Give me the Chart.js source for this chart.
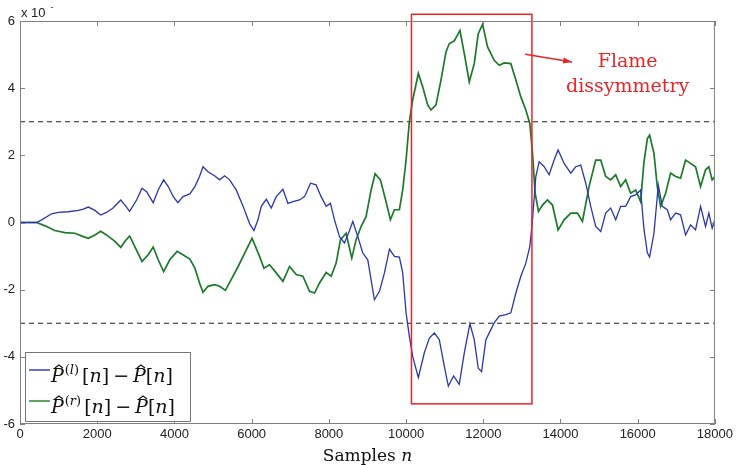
<!DOCTYPE html>
<html><head><meta charset="utf-8">
<script src="https://cdn.jsdelivr.net/npm/chart.js@4.4.1/dist/chart.umd.min.js"></script>
<style>html,body{margin:0;padding:0;background:#fff}canvas{display:block}</style>
</head><body>
<canvas id="c" width="736" height="465"></canvas>
<script>
// ---- data (values in units of the axis multiplier) ----
const leftN = [0,430,560,820,990,1250,1510,1640,1770,1940,2090,2240,2410,2610,2720,2840,3020,3160,3280,3450,3580,3720,3840,3970,4090,4220,4400,4530,4650,4740,4870,5040,5170,5300,5430,5600,5780,5950,6060,6163,6250,6380,6508,6637,6810,6940,7068,7240,7370,7525,7670,7800,7930,8042,8146,8275,8404,8508,8620,8750,8879,9008,9180,9310,9440,9570,9698,9827,9913,10000,10085,10170,10318,10473,10603,10732,10861,10990,11094,11231,11378,11508,11654,11766,11870,11956,12068,12197,12283,12413,12585,12714,12844,12973,13102,13206,13275,13361,13447,13577,13706,13835,13938,14094,14266,14395,14525,14654,14783,14912,15042,15171,15300,15430,15559,15688,15817,15947,16076,16162,16250,16308,16421,16533,16637,16766,16852,16981,17110,17240,17369,17498,17628,17757,17843,17929,18000];
const leftV = [0,0,0.08,0.26,0.30,0.32,0.36,0.40,0.46,0.36,0.22,0.30,0.43,0.67,0.52,0.33,0.67,1.02,0.92,0.59,0.97,1.27,1.07,0.77,0.59,0.77,0.85,1.07,1.37,1.66,1.51,1.39,1.27,1.39,1.27,0.97,0.48,-0.04,-0.24,0.08,0.48,0.69,0.43,0.77,0.99,0.57,0.62,0.67,0.77,1.17,1.12,0.77,0.48,0.57,0.08,-0.42,-0.61,-0.32,0.03,-0.42,-0.91,-1.11,-2.30,-2.05,-1.50,-0.79,-1.01,-1.03,-1.50,-2.69,-3.39,-3.98,-4.62,-3.88,-3.44,-3.29,-3.49,-4.28,-4.87,-4.57,-4.82,-3.88,-3.01,-3.49,-4.34,-4.44,-3.49,-3.19,-2.99,-2.79,-2.74,-2.69,-2.10,-1.60,-1.21,-0.71,0.08,1.37,1.81,1.66,1.42,1.86,2.16,1.76,1.47,1.66,1.71,1.17,0.48,-0.12,-0.27,0.28,0.43,0.08,0.48,0.48,0.77,0.82,0.97,-0.20,-0.90,-1.03,-0.32,1.12,0.48,0.38,0.08,0.28,0.23,-0.37,-0.07,-0.22,0.48,-0.12,0.28,-0.17,0.08];
const rightN = [0,430,650,900,1160,1420,1640,1770,1940,2090,2240,2460,2610,2720,2840,2970,3160,3320,3450,3580,3720,3880,4070,4220,4400,4530,4650,4740,4870,5040,5170,5320,5470,5650,5820,6010,6206,6318,6465,6637,6810,6982,7155,7327,7500,7629,7758,7930,8060,8189,8301,8447,8594,8706,8835,8965,9094,9198,9335,9482,9594,9698,9827,9913,10000,10085,10170,10318,10430,10560,10646,10775,10904,11034,11120,11249,11396,11508,11637,11766,11870,11982,12111,12283,12413,12542,12714,12844,12973,13102,13206,13275,13344,13430,13533,13663,13792,13938,14094,14266,14438,14568,14740,14912,15042,15171,15300,15430,15559,15688,15817,15947,16076,16162,16250,16308,16421,16507,16593,16723,16852,16981,17110,17240,17369,17498,17628,17757,17843,17929,18000];
const rightV = [0,0,-0.10,-0.24,-0.30,-0.32,-0.42,-0.47,-0.37,-0.26,-0.37,-0.56,-0.74,-0.56,-0.40,-0.71,-1.16,-0.96,-0.73,-1.11,-1.46,-1.11,-0.86,-0.96,-1.09,-1.36,-1.80,-2.08,-1.90,-1.85,-1.90,-2.02,-1.70,-1.31,-0.91,-0.47,-1.01,-1.36,-1.26,-1.50,-1.75,-1.31,-1.55,-1.60,-2.05,-2.10,-1.80,-1.49,-1.60,-1.21,-0.51,-0.32,-1.06,-0.51,-0.12,0.18,0.97,1.45,1.27,0.62,0.08,0.38,0.38,0.97,1.86,3.00,3.64,4.44,4.04,3.50,3.35,3.50,4.24,5.08,5.33,5.41,5.72,5.03,4.19,4.73,5.62,5.90,5.23,4.83,4.68,4.75,4.73,4.24,3.74,3.35,2.95,2.06,0.87,0.33,0.52,0.67,0.52,-0.22,0.08,0.28,0.28,0.03,1.07,1.86,1.86,1.37,1.27,1.42,1.07,1.27,0.87,0.97,0.62,1.80,2.50,2.60,2.06,1.07,0.48,0.87,1.47,1.37,1.32,1.86,1.76,1.66,1.07,1.57,1.66,1.27,1.37];
const thresholdLevels = [3, -3];
const xRange = [0, 18000];
const yRange = [-6, 6];
const xStep = 2000, yStep = 2;
const boxN = [10140, 13260];      // highlighted region (samples)
const boxV = [-5.4, 6.2];         // highlighted region (value)
const arrowFrom = [13085, 5.01], arrowTo = [14300, 4.78];
const noteText = ['Flame', 'dissymmetry'];
const noteAt = [[15740, 4.63], [15740, 3.90]];
const seriesColors = ['#2a36b0', '#1b7a2a'];
const legendSup = ['l', 'r'];

const pts = (N, V) => N.map((n, i) => ({x: n, y: V[i]}));

const datasets = [
  {data: pts(leftN, leftV), borderColor: seriesColors[0], borderWidth: 1.3},
  {data: pts(rightN, rightV), borderColor: seriesColors[1], borderWidth: 1.7},
];
thresholdLevels.forEach(t => datasets.push({
  data: [{x: xRange[0], y: t}, {x: xRange[1], y: t}],
  borderColor: '#222', borderWidth: 1.2, borderDash: [5, 4]
}));
datasets.forEach(d => { d.showLine = true; d.pointRadius = 0; d.fill = false; d.tension = 0; });

const RED = '#e8262a';
const serif = '"DejaVu Serif", serif';
const sans = '"Liberation Sans", Arial, sans-serif';

function hat(ctx, cx, y) {
  ctx.beginPath();
  ctx.moveTo(cx - 4, y + 3); ctx.lineTo(cx, y); ctx.lineTo(cx + 4, y + 3);
  ctx.lineWidth = 1.1; ctx.stroke();
}
function mathRow(ctx, x, base, sup) {
  const it = 'italic 19px ' + serif, rm = '19px ' + serif;
  const sIt = 'italic 13px ' + serif, sRm = '13px ' + serif;
  let cx = x;
  ctx.fillStyle = '#111'; ctx.strokeStyle = '#111'; ctx.textBaseline = 'alphabetic'; ctx.textAlign = 'left';
  const put = (t, f, dy = 0) => { ctx.font = f; ctx.fillText(t, cx, base + dy); const w = ctx.measureText(t).width; const x0 = cx; cx += w; return [x0, w]; };
  let [px, pw] = put('P', it); hat(ctx, px + pw * 0.62, base - 17);
  cx += 1;
  put('(', sRm, -8); put(sup, sIt, -8); put(')', sRm, -8);
  cx += 3;
  put('[', rm); put('n', it); put(']', rm);
  cx += 4; put('\u2212', rm); cx += 4;
  [px, pw] = put('P', it); hat(ctx, px + pw * 0.62, base - 17);
  put('[', rm); put('n', it); put(']', rm);
}

const deco = {
  id: 'deco',
  afterDatasetsDraw(chart) {
    const {ctx, scales: {x, y}} = chart;
    ctx.save();
    const x0 = x.getPixelForValue(boxN[0]), x1 = x.getPixelForValue(boxN[1]);
    const y0 = y.getPixelForValue(boxV[1]), y1 = y.getPixelForValue(boxV[0]);
    ctx.strokeStyle = RED; ctx.lineWidth = 1.5;
    ctx.strokeRect(x0, y0, x1 - x0, y1 - y0);
    ctx.restore();
  },
  afterDraw(chart) {
    const {ctx, chartArea: a, scales: {x, y}} = chart;
    ctx.save();
    // frame
    ctx.strokeStyle = '#808080'; ctx.lineWidth = 1;
    ctx.strokeRect(a.left + 0.5, a.top + 0.5, a.right - a.left - 1, a.bottom - a.top - 1);
    // inward ticks
    ctx.beginPath();
    x.ticks.forEach(t => {
      const px = Math.round(x.getPixelForValue(t.value)) + 0.5;
      ctx.moveTo(px, a.bottom); ctx.lineTo(px, a.bottom - 5);
      ctx.moveTo(px, a.top); ctx.lineTo(px, a.top + 5);
    });
    y.ticks.forEach(t => {
      const py = Math.round(y.getPixelForValue(t.value)) + 0.5;
      ctx.moveTo(a.left, py); ctx.lineTo(a.left + 5, py);
      ctx.moveTo(a.right, py); ctx.lineTo(a.right - 5, py);
    });
    ctx.stroke();
    // exponent label
    ctx.fillStyle = '#222'; ctx.textAlign = 'left'; ctx.textBaseline = 'alphabetic';
    ctx.font = '13px ' + sans;
    ctx.fillText('x 10', a.left + 1, a.top - 4);
    const ew = ctx.measureText('x 10').width;
    ctx.font = '9px ' + sans;
    ctx.fillText('-', a.left + 1 + ew + 5, a.top - 11);
    // arrow
    const ax0 = x.getPixelForValue(arrowFrom[0]), ay0 = y.getPixelForValue(arrowFrom[1]);
    const ax1 = x.getPixelForValue(arrowTo[0]), ay1 = y.getPixelForValue(arrowTo[1]);
    ctx.strokeStyle = RED; ctx.fillStyle = RED; ctx.lineWidth = 1.4;
    ctx.beginPath(); ctx.moveTo(ax0, ay0); ctx.lineTo(ax1, ay1); ctx.stroke();
    const ang = Math.atan2(ay1 - ay0, ax1 - ax0);
    ctx.beginPath();
    ctx.moveTo(ax1, ay1);
    ctx.lineTo(ax1 - 9 * Math.cos(ang) + 3 * Math.sin(ang), ay1 - 9 * Math.sin(ang) - 3 * Math.cos(ang));
    ctx.lineTo(ax1 - 9 * Math.cos(ang) - 3 * Math.sin(ang), ay1 - 9 * Math.sin(ang) + 3 * Math.cos(ang));
    ctx.closePath(); ctx.fill();
    // annotation text
    ctx.font = '19px ' + serif; ctx.textAlign = 'center';
    noteText.forEach((t, i) => ctx.fillText(t, x.getPixelForValue(noteAt[i][0]), y.getPixelForValue(noteAt[i][1])));
    // legend
    const lx = a.left + 5, ly = a.bottom - 72, lw = 165, lh = 69;
    ctx.fillStyle = '#fff'; ctx.fillRect(lx, ly, lw, lh);
    ctx.strokeStyle = '#777'; ctx.lineWidth = 1;
    ctx.strokeRect(lx + 0.5, ly + 0.5, lw, lh);
    [0, 1].forEach(i => {
      const rowY = ly + 18 + i * 31;
      ctx.strokeStyle = seriesColors[i]; ctx.lineWidth = 1.4;
      ctx.beginPath(); ctx.moveTo(lx + 4, rowY); ctx.lineTo(lx + 25, rowY); ctx.stroke();
      mathRow(ctx, lx + 26, rowY + 12, legendSup[i]);
    });
    // x title
    ctx.fillStyle = '#111'; ctx.textAlign = 'left'; ctx.textBaseline = 'alphabetic';
    ctx.font = '17px ' + serif;
    const w1 = ctx.measureText('Samples ').width;
    ctx.font = 'italic 17px ' + serif;
    const w2 = ctx.measureText('n').width;
    const sx = (a.left + a.right) / 2 - (w1 + w2) / 2, base = chart.height - 4;
    ctx.font = '17px ' + serif; ctx.fillText('Samples ', sx, base);
    ctx.font = 'italic 17px ' + serif; ctx.fillText('n', sx + w1, base);
    ctx.restore();
  }
};

new Chart(document.getElementById('c'), {
  type: 'scatter',
  data: {datasets},
  options: {
    responsive: false, animation: false, devicePixelRatio: 1,
    layout: {padding: {top: 21, right: 20, left: 0, bottom: 0}},
    plugins: {legend: {display: false}, tooltip: {enabled: false}},
    scales: {
      x: {
        type: 'linear', min: xRange[0], max: xRange[1],
        ticks: {stepSize: xStep, color: '#222', padding: 3, maxRotation: 0, autoSkip: false,
                callback: v => String(v), font: {family: sans, size: 13}},
        grid: {display: false, drawTicks: false}, border: {display: false},
        afterFit: s => { s.height = 41; }
      },
      y: {
        min: yRange[0], max: yRange[1],
        ticks: {stepSize: yStep, color: '#222', padding: 5,
                callback: v => String(v), font: {family: sans, size: 13}},
        grid: {display: false, drawTicks: false}, border: {display: false},
        afterFit: s => { s.width = 20; }
      }
    }
  },
  plugins: [deco]
});
</script>
</body></html>
